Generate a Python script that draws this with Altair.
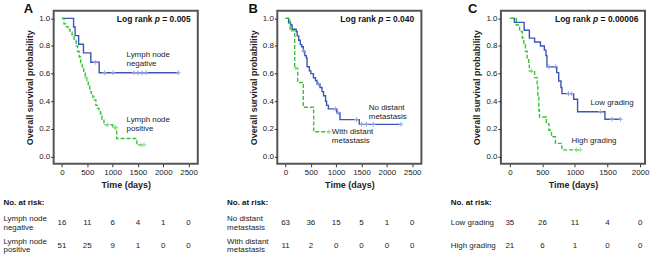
import altair as alt
import pandas as pd

FONT = "Liberation Sans"
BLUE = "#3a55b4"
GREEN = "#36c236"
BLUE_CENS = "#95a6e0"
GREEN_CENS = "#8fdc8f"
FRAME = "#555555"
INK = "#222222"

# ---------------- data ----------------
TICKS_AB = [0, 500, 1000, 1500, 2000, 2500]
TICKS_C = [0, 500, 1000, 1500, 2000]
Y_TICKS = [0.0, 0.2, 0.4, 0.6, 0.8, 1.0]

# Panel A: lymph node status
A_LABELS = ["Lymph node\nnegative", "Lymph node\npositive"]
A_ROWS = ["Lymph node|negative", "Lymph node|positive"]
A1_T = [0, 230, 260, 330, 425, 570, 735, 2300]
A1_S = [1.0, 0.9375, 0.875, 0.8125, 0.75, 0.682, 0.606, 0.606]
A1_CT = [667, 840, 1010, 1420, 1500, 1580, 1660, 2300]
A1_CS = [0.682, 0.606, 0.606, 0.606, 0.606, 0.606, 0.606, 0.606]
A2_T = [0, 40, 80, 120, 160, 200, 240, 280, 310, 340, 370, 400, 430, 460, 490,
        520, 550, 580, 610, 640, 670, 700, 730, 760, 790, 830, 1000, 1080, 1480, 1620]
A2_S = [1.0, 0.96, 0.94, 0.92, 0.90, 0.88, 0.84, 0.80, 0.76, 0.72, 0.68, 0.65, 0.61, 0.57, 0.55,
        0.51, 0.47, 0.45, 0.43, 0.41, 0.37, 0.35, 0.33, 0.31, 0.27, 0.23, 0.21, 0.13, 0.085, 0.085]
A2_CT = [480, 900, 1040, 1060, 1560, 1620]
A2_CS = [0.57, 0.23, 0.21, 0.21, 0.085, 0.085]
A_RISK = [[16, 11, 6, 4, 1, 0], [51, 25, 9, 1, 0, 0]]
A_PVAL = "= 0.005"

# Panel B: distant metastasis
B_LABELS = ["No distant\nmetastasis", "With distant\nmetastasis"]
B_ROWS = ["No distant|metastasis", "With distant|metastasis"]
B1_T = [0, 60, 100, 130, 210, 230, 260, 290, 320, 350, 380, 410, 425, 470, 500, 550,
        590, 620, 680, 720, 750, 790, 810, 845, 1010, 1075, 1455, 2280]
B1_S = [1.0, 0.968, 0.952, 0.921, 0.905, 0.873, 0.841, 0.81, 0.794, 0.762, 0.73, 0.714, 0.65, 0.62, 0.60, 0.57,
        0.55, 0.525, 0.50, 0.47, 0.44, 0.40, 0.37, 0.345, 0.316, 0.267, 0.233, 0.233]
B1_CT = [360, 650, 980, 1040, 1400, 1500, 1600, 1730, 2280]
B1_CS = [0.762, 0.525, 0.345, 0.316, 0.267, 0.233, 0.233, 0.233, 0.233]
B2_T = [0, 90, 180, 240, 350, 555, 860]
B2_S = [1.0, 0.909, 0.64, 0.536, 0.357, 0.179, 0.179]
B2_CT = [200, 860]
B2_CS = [0.64, 0.179]
B_RISK = [[63, 36, 15, 5, 1, 0], [11, 2, 0, 0, 0, 0]]
B_PVAL = "= 0.040"

# Panel C: grading
C_LABELS = ["Low grading", "High grading"]
C_ROWS = ["Low grading", "High grading"]
C1_T = [0, 70, 220, 300, 380, 470, 530, 555, 570, 720, 750, 785, 800, 980, 1040, 1460, 1700]
C1_S = [1.0, 0.971, 0.914, 0.857, 0.829, 0.80, 0.77, 0.73, 0.65, 0.607, 0.547, 0.50, 0.455, 0.415, 0.324, 0.27, 0.27]
C1_CT = [600, 700, 900, 950, 1390, 1570, 1700]
C1_CS = [0.65, 0.65, 0.455, 0.455, 0.324, 0.27, 0.27]
C2_T = [0, 100, 150, 190, 215, 240, 265, 290, 300, 380, 420, 430, 445, 455, 560, 600, 640, 700, 800, 1080]
C2_S = [1.0, 0.952, 0.905, 0.857, 0.81, 0.762, 0.714, 0.667, 0.619, 0.571, 0.52, 0.43, 0.333, 0.286,
        0.238, 0.19, 0.143, 0.095, 0.048, 0.048]
C2_CT = [330, 1020, 1080]
C2_CS = [0.619, 0.048, 0.048]
C_RISK = [[35, 26, 11, 4, 0], [21, 6, 1, 0, 0]]
C_PVAL = "= 0.00006"

Y_DOMAIN = [-0.0525, 1.055]


def panel(letter, letter_dx, xdom, xticks, curves, censors, labels, label_pos,
          pval, p_pos, rows, risk, row_label_offset):
    xscale = alt.Scale(domain=xdom, nice=False, zero=False)
    yscale = alt.Scale(domain=Y_DOMAIN, nice=False, zero=False)
    X = alt.X("t:Q", scale=xscale,
              axis=alt.Axis(values=xticks, format="d", title="Time (days)", grid=False,
                            domain=False, tickSize=3, tickColor="#333", labelFontSize=8,
                            labelColor=INK, labelPadding=2, labelFlush=False,
                            titleFontSize=9, titleFontWeight="bold", titleColor=INK,
                            titlePadding=4))
    Y = alt.Y("s:Q", scale=yscale,
              axis=alt.Axis(values=Y_TICKS, format=".1f", title="Overall survival probability",
                            grid=False, domain=False, tickSize=3, tickColor="#333",
                            labelFontSize=8, labelColor=INK, labelPadding=1,
                            titleFontSize=9, titleFontWeight="bold", titleColor=INK,
                            titlePadding=4))
    layers = []
    styles = [(BLUE, [1, 0], BLUE_CENS), (GREEN, [4, 2], GREEN_CENS)]
    for (t, s), (ct, cs), (col, dash, ccol) in zip(curves, censors, styles):
        ldf = pd.DataFrame({"t": t, "s": s})
        layers.append(alt.Chart(ldf).mark_line(interpolate="step-after", color=col,
                                               strokeDash=dash, strokeWidth=1.4)
                      .encode(x=X, y=Y))
        cdf = pd.DataFrame({"t": ct, "s": cs})
        layers.append(alt.Chart(cdf).mark_point(shape="M0,-1L0,1M-1,0L1,0", size=22,
                                                filled=False, color=ccol, strokeWidth=1,
                                                opacity=1)
                      .encode(x=X, y=Y))
    # group annotations
    adf = pd.DataFrame({"t": [p[0] for p in label_pos], "s": [p[1] for p in label_pos],
                        "label": labels})
    layers.append(alt.Chart(adf).mark_text(align="left", baseline="top", lineBreak="\n",
                                           fontSize=8, lineHeight=9, color=INK)
                  .encode(x=X, y=Y, text="label:N"))
    # log rank text
    lr_parts = [("Log rank", "normal"), ("p", "italic"), (pval, "normal")]
    for (txt, style), (pt, ps) in zip(lr_parts, p_pos):
        pdf = pd.DataFrame({"t": [pt], "s": [ps], "label": [txt]})
        layers.append(alt.Chart(pdf).mark_text(align="right", baseline="middle", fontSize=8.5,
                                               fontWeight="bold", fontStyle=style, color="#111")
                      .encode(x=X, y=Y, text="label:N"))
    # panel letter
    ldf = pd.DataFrame({"label": [letter]})
    layers.append(alt.Chart(ldf).mark_text(align="left", baseline="top", fontSize=13,
                                           fontWeight="bold", color="#111")
                  .encode(x=alt.value(letter_dx), y=alt.value(-8), text="label:N"))
    km = alt.layer(*layers).properties(
        width=145, height=154,
        view=alt.ViewBackground(stroke=FRAME, strokeWidth=2),
    )
    # risk table
    rec = []
    for r, vals in zip(rows, risk):
        for t, n in zip(xticks, vals):
            rec.append({"row": r, "t": t, "n": n})
    tdf = pd.DataFrame(rec)
    table = alt.Chart(tdf).mark_text(fontSize=8, color=INK).encode(
        x=alt.X("t:Q", scale=alt.Scale(domain=xdom, nice=False, zero=False), axis=None),
        y=alt.Y("row:N", sort=rows, scale=alt.Scale(domain=rows),
                axis=alt.Axis(title="No. at risk:", titleAngle=0, titleAlign="left",
                              titleX=-51, titleY=-9, titleBaseline="middle",
                              titleFontSize=8, titleFontWeight="bold", titleColor="#111",
                              labelAlign="left", labelPadding=51, ticks=False, tickSize=0,
                              domain=False, grid=False, labelFontSize=8, labelColor=INK,
                              labelLineHeight=8.5, labelOffset=row_label_offset,
                              labelExpr="split(datum.label, '|')")),
        text="n:Q",
    ).properties(width=145, height=46, view=alt.ViewBackground(stroke="transparent"))
    return alt.vconcat(km, table, spacing=7)


pA = panel("A", -30, [-163, 2682], TICKS_AB,
           [(A1_T, A1_S), (A2_T, A2_S)], [(A1_CT, A1_CS), (A2_CT, A2_CS)],
           A_LABELS, [(1275, 0.763), (1275, 0.295)], A_PVAL,
           [(1788, 0.993), (1935, 0.993), (2543, 0.993)], A_ROWS, A_RISK, -4.25)
pB = panel("B", -29, [-163, 2682], TICKS_AB,
           [(B1_T, B1_S), (B2_T, B2_S)], [(B1_CT, B1_CS), (B2_CT, B2_CS)],
           B_LABELS, [(1644, 0.38), (914, 0.208)], B_PVAL,
           [(1785, 0.993), (1932, 0.993), (2538, 0.993)], B_ROWS, B_RISK, -4.25)
pC = panel("C", -33, [-137, 2076], TICKS_C,
           [(C1_T, C1_S), (C2_T, C2_S)], [(C1_CT, C1_CS), (C2_CT, C2_CS)],
           C_LABELS, [(1237, 0.415), (947, 0.144)], C_PVAL,
           [(1241, 0.993), (1356, 0.993), (1974, 0.993)], C_ROWS, C_RISK, 0)

chart = alt.hconcat(pA, pB, pC, spacing=27).properties(
    padding={"left": 2, "top": 1, "right": 0, "bottom": 0}
).configure(font=FONT).configure_view(stroke="transparent")

chart.save("out.html", embed_options={"renderer": "svg", "actions": False})
